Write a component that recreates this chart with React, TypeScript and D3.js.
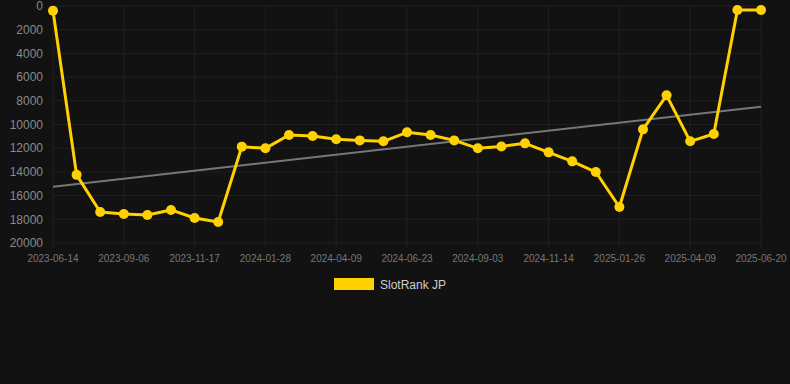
import React from "react";
import * as d3 from "d3";

const categories = [
  "2023-06-14","2023-07-12","2023-08-09","2023-09-06","2023-09-30","2023-10-24",
  "2023-11-17","2023-12-11","2024-01-04","2024-01-28","2024-02-21","2024-03-16",
  "2024-04-09","2024-05-04","2024-05-29","2024-06-23","2024-07-17","2024-08-10",
  "2024-09-03","2024-09-27","2024-10-21","2024-11-14","2024-12-08","2025-01-01",
  "2025-01-26","2025-02-19","2025-03-16","2025-04-09","2025-05-06","2025-05-28",
  "2025-06-20",
];
const values = [
  400, 14250, 17380, 17550, 17640, 17210, 17890, 18230, 11870, 12010, 10890,
  10970, 11250, 11340, 11420, 10660, 10890, 11340, 12010, 11850, 11590, 12350,
  13110, 14010, 16960, 10410, 7540, 11420, 10800, 340, 340,
];
const trendValues = [15250, 8500];
const yTicks = [0, 2000, 4000, 6000, 8000, 10000, 12000, 14000, 16000, 18000, 20000];
const seriesName = "SlotRank JP";

export default function App() {
  const W = 790, H = 384;
  const left = 53, right = 761, top = 6, bottom = 243;
  const x = d3.scalePoint<string>().domain(categories).range([left, right]);
  const y = d3.scaleLinear().domain([0, 20000]).range([top, bottom]);
  const tickCats = categories.filter((_, i) => i % 3 === 0);
  const line = d3.line<number>().x((_, i) => x(categories[i])!).y((d) => y(d));
  const grid = "#202020";
  const gold = "#ffd100";
  return (
    <svg width={W} height={H} style={{ position: "absolute", left: 0, top: 0, background: "#121212" }}
      fontFamily="'Liberation Sans', Arial, sans-serif">
      <rect x={0} y={0} width={W} height={H} fill="#121212" />
      {yTicks.map((t) => (
        <g key={t}>
          <line x1={left} x2={right} y1={y(t)} y2={y(t)} stroke={grid} strokeWidth={1} />
          <text x={43} y={y(t)} dy="0.35em" textAnchor="end" fontSize={12} fill="#8a8a8a">{t}</text>
        </g>
      ))}
      {tickCats.map((c) => (
        <g key={c}>
          <line x1={x(c)} x2={x(c)} y1={top} y2={bottom + 5} stroke={grid} strokeWidth={1} />
          <text x={x(c)} y={262} textAnchor="middle" fontSize={10} fill="#767676">{c}</text>
        </g>
      ))}
      <line x1={x(categories[0])} x2={x(categories[categories.length - 1])}
        y1={y(trendValues[0])} y2={y(trendValues[1])} stroke="#777" strokeWidth={2} />
      <path d={line(values) || ""} fill="none" stroke={gold} strokeWidth={3} strokeLinejoin="round" />
      {values.map((v, i) => (
        <circle key={i} cx={x(categories[i])} cy={y(v)} r={5} fill={gold} />
      ))}
      <rect x={334} y={278} width={40} height={12} fill={gold} />
      <text x={380} y={288.5} fontSize={12} fill="#cfcfcf">{seriesName}</text>
    </svg>
  );
}
